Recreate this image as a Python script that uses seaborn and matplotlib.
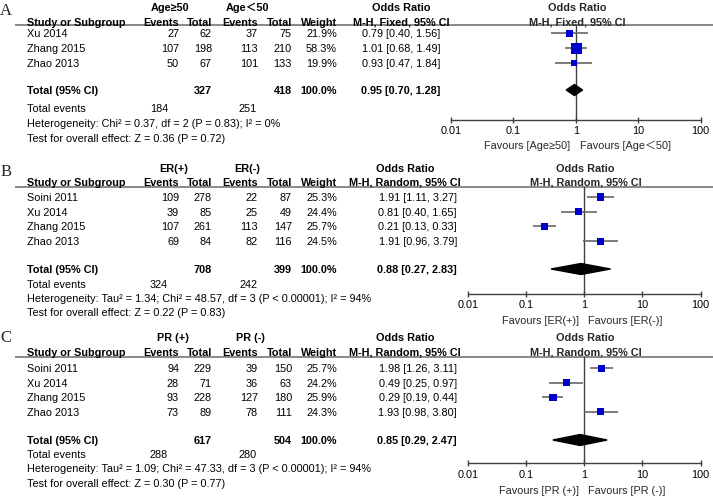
import numpy as np
import pandas as pd
import matplotlib
matplotlib.use("Agg")
import matplotlib.pyplot as plt
from matplotlib.ticker import NullLocator
import seaborn as sns

# ---- panel A: age ----
studies_a = ["Xu 2014", "Zhang 2015", "Zhao 2013"]
ev1_a = [27, 107, 50]
tot1_a = [62, 198, 67]
ev2_a = [37, 113, 101]
tot2_a = [75, 210, 133]
weight_a = [21.9, 58.3, 19.9]
or_a = [0.79, 1.01, 0.93]
lo_a = [0.40, 0.68, 0.47]
hi_a = [1.56, 1.49, 1.84]
total_a = [327, 418, 100.0, 0.95, 0.70, 1.28]
events_a = [184, 251]
het_a = "Heterogeneity: Chi² = 0.37, df = 2 (P = 0.83); I² = 0%"
test_a = "Test for overall effect: Z = 0.36 (P = 0.72)"

# ---- panel B: ER ----
studies_b = ["Soini 2011", "Xu 2014", "Zhang 2015", "Zhao 2013"]
ev1_b = [109, 39, 107, 69]
tot1_b = [278, 85, 261, 84]
ev2_b = [22, 25, 113, 82]
tot2_b = [87, 49, 147, 116]
weight_b = [25.3, 24.4, 25.7, 24.5]
or_b = [1.91, 0.81, 0.21, 1.91]
lo_b = [1.11, 0.40, 0.13, 0.96]
hi_b = [3.27, 1.65, 0.33, 3.79]
total_b = [708, 399, 100.0, 0.88, 0.27, 2.83]
events_b = [324, 242]
het_b = "Heterogeneity: Tau² = 1.34; Chi² = 48.57, df = 3 (P < 0.00001); I² = 94%"
test_b = "Test for overall effect: Z = 0.22 (P = 0.83)"

# ---- panel C: PR ----
studies_c = ["Soini 2011", "Xu 2014", "Zhang 2015", "Zhao 2013"]
ev1_c = [94, 28, 93, 73]
tot1_c = [229, 71, 228, 89]
ev2_c = [39, 36, 127, 78]
tot2_c = [150, 63, 180, 111]
weight_c = [25.7, 24.2, 25.9, 24.3]
or_c = [1.98, 0.49, 0.29, 1.93]
lo_c = [1.26, 0.25, 0.19, 0.98]
hi_c = [3.11, 0.97, 0.44, 3.80]
total_c = [617, 504, 100.0, 0.85, 0.29, 2.47]
events_c = [288, 280]
het_c = "Heterogeneity: Tau² = 1.09; Chi² = 47.33, df = 3 (P < 0.00001); I² = 94%"
test_c = "Test for overall effect: Z = 0.30 (P = 0.77)"

ticks = [0.01, 0.1, 1, 10, 100]
tick_labels = ["0.01", "0.1", "1", "10", "100"]

sns.set_theme(style="white")
plt.rcParams["font.family"] = ["Liberation Sans", "DejaVu Sans", "Noto Sans CJK SC"]
FS = 7.8
W, H = 713, 503

fig = plt.figure(figsize=(W / 100, H / 100), dpi=100)
bg = fig.add_axes([0, 0, 1, 1])
bg.set_xlim(0, W)
bg.set_ylim(H, 0)
bg.axis("off")


def txt(x, y, s, ha="left", bold=False):
    bg.text(x, y + 3.8, s, ha=ha, va="baseline", fontsize=FS,
            fontweight="bold" if bold else "normal", color="black")


def draw_panel(letter, groups, method, studies, ev1, tot1, ev2, tot2, weight,
               ors, los, his, total, events, het, test, favours, lay):
    bg.text(6, lay["letter_y"], letter, ha="center", va="center", fontsize=12,
            family="Liberation Serif")
    # group headers
    txt(lay["g1"], lay["group_y"], groups[0], ha="center", bold=True)
    txt(lay["g2"], lay["group_y"], groups[1], ha="center", bold=True)
    hy = lay["head_y"]
    txt(27, hy, "Study or Subgroup", bold=True)
    for x, s in [(179, "Events"), (212, "Total"), (258, "Events"), (292, "Total"), (337, "Weight")]:
        txt(x, hy, s, ha="right", bold=True)
    txt(lay["or_head"], lay["group_y"], "Odds Ratio", ha="center", bold=True)
    txt(lay["or_head"], hy, method, ha="center", bold=True)
    bg.plot([15, W], [lay["line_y"], lay["line_y"]], color="#808080", lw=1.3,
            solid_capstyle="butt")

    rows = lay["row0"] + lay["step"] * np.arange(len(studies))
    for i, s in enumerate(studies):
        y = rows[i]
        txt(27, y, s)
        txt(179, y, str(ev1[i]), ha="right")
        txt(212, y, str(tot1[i]), ha="right")
        txt(258, y, str(ev2[i]), ha="right")
        txt(292, y, str(tot2[i]), ha="right")
        txt(337, y, f"{weight[i]:.1f}%", ha="right")
        txt(lay["or_right"], y, f"{ors[i]:.2f} [{los[i]:.2f}, {his[i]:.2f}]", ha="right")

    ty = lay["total_y"]
    txt(27, ty, "Total (95% CI)", bold=True)
    txt(212, ty, str(total[0]), ha="right", bold=True)
    txt(292, ty, str(total[1]), ha="right", bold=True)
    txt(337, ty, f"{total[2]:.1f}%", ha="right", bold=True)
    txt(lay["or_right"], ty, f"{total[3]:.2f} [{total[4]:.2f}, {total[5]:.2f}]",
        ha="right", bold=True)
    txt(27, lay["tev_y"], "Total events")
    txt(168, lay["tev_y"], str(events[0]), ha="right")
    txt(257, lay["tev_y"], str(events[1]), ha="right")
    txt(27, lay["het_y"], het)
    txt(27, lay["test_y"], test)

    # forest axes, y in pixel units
    x0, x1 = lay["x0"], lay["x1"]
    top, bottom = lay["line_y"], lay["axis_y"]
    ax = fig.add_axes([x0 / W, 1 - bottom / H, (x1 - x0) / W, (bottom - top) / H])
    ax.set_xscale("log")
    ax.set_xlim(0.01, 100)
    ax.set_ylim(bottom, top)
    ax.patch.set_alpha(0)
    for s in ["top", "right", "left"]:
        ax.spines[s].set_visible(False)
    ax.spines["bottom"].set_color("#404040")
    ax.spines["bottom"].set_linewidth(1)
    ax.set_xticks(ticks)
    ax.set_xticklabels(tick_labels)
    ax.xaxis.set_minor_locator(NullLocator())
    ax.tick_params(axis="x", direction="inout", length=5, width=1, color="#404040",
                   pad=2, labelsize=FS, labelcolor="black", bottom=True)
    ax.set_yticks([])
    ax.axvline(1, color="#404040", lw=1, zorder=1)

    df = pd.DataFrame({"OR": ors, "lo": los, "hi": his, "Weight": weight, "y": rows})
    ax.hlines(df["y"], df["lo"], df["hi"], color="#666666", lw=1.2, zorder=2)
    sns.scatterplot(data=df, x="OR", y="y", size="Weight", sizes=(0, 105),
                    size_norm=(0, 100), marker="s", color="#0000CC", linewidth=0,
                    legend=False, ax=ax, zorder=3, clip_on=False)
    ax.fill([total[4], total[3], total[5], total[3]],
            [ty, ty - 5.5, ty, ty + 5.5], color="black", zorder=4, clip_on=False)
    ax.set_xlabel("")
    ax.set_ylabel("")

    # right headers and favours labels
    ax.annotate("Odds Ratio", xy=(1, lay["group_y"] + 3.8), xytext=(1, 0),
                textcoords="offset points", ha="center", va="baseline",
                fontsize=FS, fontweight="bold", annotation_clip=False)
    ax.annotate(method, xy=(1, hy + 3.8), xytext=(1, 0), textcoords="offset points",
                ha="center", va="baseline", fontsize=FS, fontweight="bold",
                annotation_clip=False)
    ax.annotate(favours[0], xy=(1, lay["fav_y"] + 3.8), xytext=(-4, 0),
                textcoords="offset points", ha="right", va="baseline",
                fontsize=FS, annotation_clip=False)
    ax.annotate(favours[1], xy=(1, lay["fav_y"] + 3.8), xytext=(3, 0),
                textcoords="offset points", ha="left", va="baseline",
                fontsize=FS, annotation_clip=False)


lay_a = dict(letter_y=11, group_y=7, head_y=21.7, line_y=25, row0=33.3, step=15,
             total_y=90, tev_y=108.3, het_y=123.3, test_y=137.7, axis_y=120,
             fav_y=145, x0=451, x1=700.7, or_right=440, or_head=401, g1=170, g2=247)
lay_b = dict(letter_y=172, group_y=168, head_y=182, line_y=187, row0=197, step=14.7,
             total_y=269, tev_y=284.3, het_y=298.3, test_y=312.7, axis_y=294,
             fav_y=320, x0=467.7, x1=700.7, or_right=457, or_head=405, g1=174, g2=247)
lay_c = dict(letter_y=338, group_y=337, head_y=352, line_y=357, row0=368.3, step=14.5,
             total_y=440, tev_y=454, het_y=468.3, test_y=483.3, axis_y=463.3,
             fav_y=490, x0=467.7, x1=700.7, or_right=457, or_head=405, g1=173, g2=250)

draw_panel("A", ["Age≥50", "Age＜50"], "M-H, Fixed, 95% CI", studies_a, ev1_a, tot1_a,
           ev2_a, tot2_a, weight_a, or_a, lo_a, hi_a, total_a, events_a, het_a, test_a,
           ["Favours [Age≥50]", "Favours [Age＜50]"], lay_a)
draw_panel("B", ["ER(+)", "ER(-)"], "M-H, Random, 95% CI", studies_b, ev1_b, tot1_b,
           ev2_b, tot2_b, weight_b, or_b, lo_b, hi_b, total_b, events_b, het_b, test_b,
           ["Favours [ER(+)]", "Favours [ER(-)]"], lay_b)
draw_panel("C", ["PR (+)", "PR (-)"], "M-H, Random, 95% CI", studies_c, ev1_c, tot1_c,
           ev2_c, tot2_c, weight_c, or_c, lo_c, hi_c, total_c, events_c, het_c, test_c,
           ["Favours [PR (+)]", "Favours [PR (-)]"], lay_c)

fig.savefig("out.png", dpi=100)
